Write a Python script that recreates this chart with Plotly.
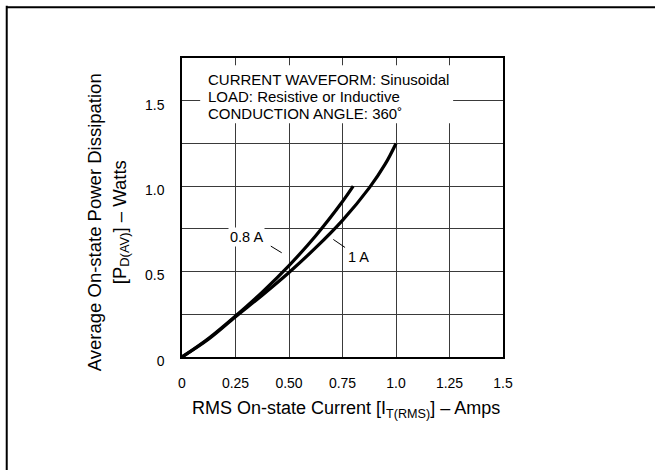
import plotly.graph_objects as go

# ---- data ----
x_08A = [0, 0.125, 0.25, 0.375, 0.5, 0.625, 0.75, 0.80]
y_08A = [0, 0.11, 0.24, 0.38, 0.535, 0.71, 0.91, 1.0]

x_1A = [0, 0.125, 0.25, 0.375, 0.5, 0.625, 0.75, 0.875, 0.95, 1.0]
y_1A = [0, 0.105, 0.235, 0.362, 0.495, 0.64, 0.80, 0.99, 1.13, 1.25]

x_tickvals = [0, 0.25, 0.5, 0.75, 1.0, 1.25, 1.5]
x_ticktext = ["0", "0.25", "0.50", "0.75", "1.0", "1.25", "1.5"]
y_tickvals = [0, 0.5, 1.0, 1.5]
y_ticktext = ["0", "0.5", "1.0", "1.5"]

box_lines = ["CURRENT WAVEFORM: Sinusoidal",
             "LOAD: Resistive or Inductive",
             "CONDUCTION ANGLE: 360˚"]

FONT = "Liberation Sans, Arial, sans-serif"

fig = go.Figure()
for xs, ys in [(x_08A, y_08A), (x_1A, y_1A)]:
    fig.add_trace(go.Scatter(x=xs, y=ys, mode="lines",
                             line=dict(color="black", width=3.2, shape="spline", smoothing=1.0),
                             showlegend=False, hoverinfo="skip"))

grid_color = "#3a3a3a"
fig.update_xaxes(range=[0, 1.5], tickvals=x_tickvals, ticktext=x_ticktext,
                 showgrid=True, gridcolor=grid_color, gridwidth=1,
                 zeroline=False, showline=True, linecolor="black", linewidth=1.5,
                 mirror=True, ticks="", ticklabelstandoff=12,
                 tickfont=dict(family=FONT, size=14, color="black"))
fig.update_yaxes(range=[0, 1.75], tickvals=y_tickvals, ticktext=y_ticktext,
                 showgrid=True, gridcolor=grid_color, gridwidth=1,
                 minor=dict(dtick=0.25, tick0=0, showgrid=True, gridcolor=grid_color, gridwidth=1),
                 zeroline=False, showline=True, linecolor="black", linewidth=1.5,
                 mirror=True, ticks="", ticklabelstandoff=13, ticklabelshift=4,
                 tickfont=dict(family=FONT, size=14, color="black"))

# white box behind the condition text
fig.add_shape(type="rect", xref="x", yref="y", x0=0.085, x1=1.267, y0=1.368, y1=1.708,
              fillcolor="white", line=dict(width=0), layer="between")
for t, yy in zip(box_lines, [1.624, 1.522, 1.425]):
    fig.add_annotation(x=0.112, y=yy, xref="x", yref="y", text=t, showarrow=False,
                       xanchor="left", yanchor="middle",
                       font=dict(family=FONT, size=15, color="black"))

# curve labels
fig.add_annotation(x=0.303, y=0.70, xref="x", yref="y", text="0.8 A", showarrow=False,
                   xanchor="center", yanchor="middle", bgcolor="white", borderpad=1,
                   font=dict(family=FONT, size=14.5, color="black"))
fig.add_annotation(x=0.824, y=0.583, xref="x", yref="y", text="1 A", showarrow=False,
                   xanchor="center", yanchor="middle", bgcolor="white", borderpad=1,
                   font=dict(family=FONT, size=14.5, color="black"))
fig.add_shape(type="line", xref="x", yref="y", x0=0.415, y0=0.649, x1=0.466, y1=0.61,
              line=dict(color="black", width=1), layer="above")
fig.add_shape(type="line", xref="x", yref="y", x0=0.707, y0=0.688, x1=0.762, y1=0.641,
              line=dict(color="black", width=1), layer="above")

# axis titles
fig.add_annotation(x=0.51, y=-0.177, xref="paper", yref="paper",
                   text="RMS On-state Current [I<sub>T(RMS)</sub>] – Amps", showarrow=False,
                   xanchor="center", yanchor="middle",
                   font=dict(family=FONT, size=18, color="black"))
fig.add_annotation(x=-0.27, y=0.452, xref="paper", yref="paper",
                   text="Average On-state Power Dissipation", showarrow=False, textangle=-90,
                   xanchor="center", yanchor="middle",
                   font=dict(family=FONT, size=18.5, color="black"))
fig.add_annotation(x=-0.192, y=0.452, xref="paper", yref="paper",
                   text="[P<sub>D(AV)</sub>] – Watts", showarrow=False, textangle=-90,
                   xanchor="center", yanchor="middle",
                   font=dict(family=FONT, size=18.5, color="black"))

# outer frame lines (top and left)
fig.add_shape(type="line", xref="paper", yref="paper", x0=-0.548, x1=1.6, y0=1.170, y1=1.170,
              line=dict(color="black", width=2), layer="above")
fig.add_shape(type="line", xref="paper", yref="paper", x0=-0.546, x1=-0.546, y0=1.175, y1=-0.45,
              line=dict(color="black", width=2), layer="above")

fig.update_layout(width=655, height=470, plot_bgcolor="white", paper_bgcolor="white",
                  margin=dict(l=182, r=152, t=58, b=113), autosize=False,
                  font=dict(family=FONT, color="black"))

fig.write_html("out.html", config={"displayModeBar": False},
               post_script="document.body.style.margin='0';")
